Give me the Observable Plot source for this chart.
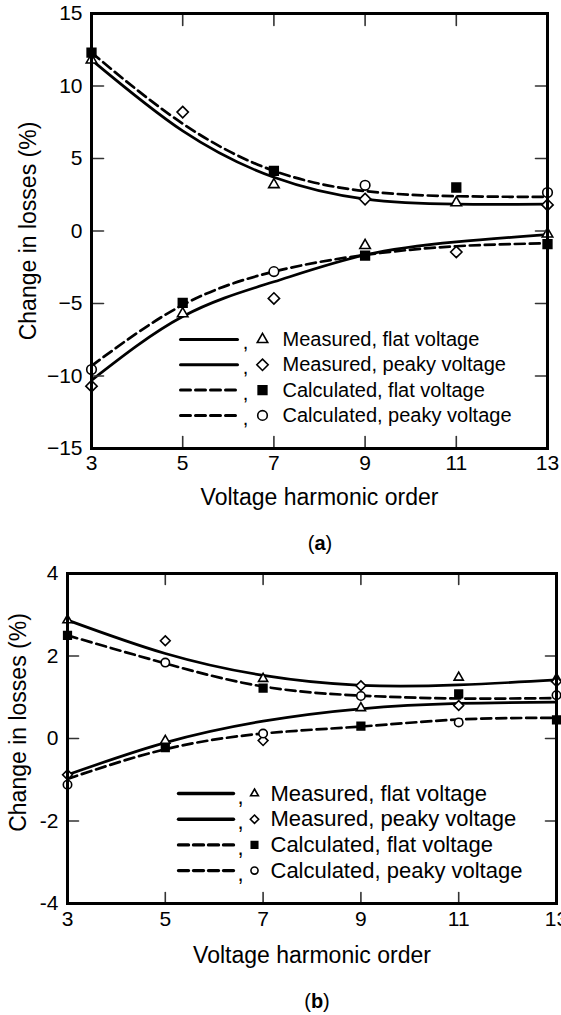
<!DOCTYPE html>
<html><head><meta charset="utf-8">
<script src="https://cdn.jsdelivr.net/npm/d3@7"></script>
<script src="https://cdn.jsdelivr.net/npm/@observablehq/plot@0.6"></script>
<style>
body{margin:0;background:#fff;}
#wrap{position:relative;width:561px;height:1015px;overflow:hidden;background:#fff;font-family:"Liberation Sans",Arial,Helvetica,sans-serif;}
#wrap svg{position:absolute;left:0;}
.cap{position:absolute;font-size:20px;transform:translate(-50%,-50%);color:#000;white-space:nowrap;}
</style></head><body><div id="wrap"></div>
<script>
// ---------- shared ----------
const harmonics = [3, 5, 7, 9, 11, 13];
const xTickValues = [3, 5, 7, 9, 11, 13];
const xInnerTicks = [5, 7, 9, 11];
const xAxisLabel = "Voltage harmonic order";
const yAxisLabel = "Change in losses (%)";
const legendLabels = ["Measured, flat voltage", "Measured, peaky voltage", "Calculated, flat voltage", "Calculated, peaky voltage"];

// ---------- panel (a) ----------
const aYTicks = [-15, -10, -5, 0, 5, 10, 15];
const aYTickLabels = ["\u221215", "\u221210", "\u22125", "0", "5", "10", "15"];
const aYInnerTicks = [-10, -5, 0, 5, 10];
// markers (null = not visible)
const aMeasuredFlat   = [11.8, -5.7, 3.2, -1.0, 1.95, -0.2];
const aMeasuredPeaky  = [-10.7, 8.2, -4.65, 2.2, -1.45, 1.8];
const aCalculatedFlat = [12.3, -4.95, 4.15, -1.7, 3.0, -0.9];
const aCalculatedPeaky= [-9.55, null, -2.8, 3.15, null, 2.65];
// fitted curves
const aMeasuredUpper   = [11.8, 6.9, 3.7, 2.2, 1.85, 1.85];
const aMeasuredLower   = [-10.3, -5.9, -3.5, -1.65, -0.75, -0.25];
const aCalculatedUpper = [12.3, 7.4, 4.15, 2.75, 2.4, 2.35];
const aCalculatedLower = [-9.3, -5.1, -2.8, -1.65, -1.05, -0.85];

// ---------- panel (b) ----------
const bYTicks = [-4, -2, 0, 2, 4];
const bYTickLabels = ["-4", "-2", "0", "2", "4"];
const bYInnerTicks = [-2, 0, 2];
const bMeasuredFlat   = [2.87, -0.05, 1.45, 0.74, 1.48, 1.45];
const bMeasuredPeaky  = [-0.88, 2.37, -0.05, 1.28, 0.8, 1.38];
const bCalculatedFlat = [2.5, -0.22, 1.22, 0.3, 1.08, 0.45];
const bCalculatedPeaky= [-1.12, 1.84, 0.12, 1.03, 0.39, 1.05];
const bMeasuredUpper   = [2.87, 2.06, 1.53, 1.29, 1.3, 1.42];
const bMeasuredLower   = [-0.88, -0.1, 0.42, 0.72, 0.85, 0.88];
const bCalculatedUpper = [2.5, 1.82, 1.26, 1.04, 0.97, 0.98];
const bCalculatedLower = [-0.98, -0.26, 0.12, 0.29, 0.46, 0.5];

// ---------- helpers ----------
const tickShape = {draw(ctx, l) { ctx.moveTo(0, 0); ctx.lineTo(0, -l); }};
const rows = (values) => harmonics.map((x, i) => ({x, y: values[i]})).filter(d => d.y != null);

function panel(cfg) {
  const solid = [...rows(cfg.curves.mu).map(d => ({...d, c: "mu"})), ...rows(cfg.curves.ml).map(d => ({...d, c: "ml"}))];
  const dashed = [...rows(cfg.curves.cu).map(d => ({...d, c: "cu"})), ...rows(cfg.curves.cl).map(d => ({...d, c: "cl"}))];
  const ms = cfg.markerSize;
  const symbols = [
    {sym: "triangle", r: ms.tri, fill: "white", vals: cfg.pts.mf},
    {sym: "diamond2", r: ms.dia, fill: "white", vals: cfg.pts.mp},
    {sym: "square", r: ms.sq, fill: "black", vals: cfg.pts.cf},
    {sym: "circle", r: ms.cir, fill: "white", vals: cfg.pts.cp}
  ];
  const lg = cfg.legend;
  const legendMarks = [];
  legendLabels.forEach((label, i) => {
    const yy = lg.y0 + i * lg.step - cfg.mt;
    legendMarks.push(Plot.vector([0], {frameAnchor: "top-left", dx: lg.lineX - cfg.ml, dy: yy, length: lg.lineLen, rotate: 90, anchor: "start", shape: tickShape, stroke: "black", strokeWidth: lg.lineW, strokeDasharray: i < 2 ? null : "10,5"}));
    legendMarks.push(Plot.text([","], {frameAnchor: "top-left", dx: lg.commaX - cfg.ml, dy: yy + 3, fontSize: lg.font, text: d => d, textAnchor: "middle", lineAnchor: "middle", fill: "black"}));
    const s = symbols[i];
    legendMarks.push(Plot.dot([0], {frameAnchor: "top-left", dx: lg.markX - cfg.ml, dy: yy, symbol: s.sym, r: s.r * lg.markScale, fill: s.fill, stroke: "black", strokeWidth: 1.6}));
    legendMarks.push(Plot.text([label], {frameAnchor: "top-left", dx: lg.textX - cfg.ml, dy: yy, fontSize: lg.font, text: d => d, textAnchor: "start", lineAnchor: "middle", fill: "black"}));
  });
  return Plot.plot({
    width: 561, height: cfg.height,
    marginLeft: cfg.ml, marginRight: cfg.mr, marginTop: cfg.mt, marginBottom: cfg.mb,
    x: {domain: [3, 13]},
    y: {domain: cfg.yDomain},
    style: {fontFamily: "Liberation Sans, Arial, Helvetica, sans-serif", fontSize: "21px", color: "black", background: "white", overflow: "visible"},
    marks: [
      Plot.line(solid, {x: "x", y: "y", z: "c", curve: "natural", stroke: "black", strokeWidth: 2.7}),
      Plot.line(dashed, {x: "x", y: "y", z: "c", curve: "natural", stroke: "black", strokeWidth: 2.7, strokeDasharray: "10,5"}),
      ...symbols.map(s => Plot.dot(rows(s.vals), {x: "x", y: "y", symbol: s.sym, r: s.r, fill: s.fill, stroke: "black", strokeWidth: 1.6})),
      Plot.vector(xInnerTicks, {x: d => d, frameAnchor: "bottom", length: cfg.tickLen, rotate: 0, anchor: "start", shape: tickShape, stroke: "#333", strokeWidth: 1.6}),
      Plot.vector(xInnerTicks, {x: d => d, frameAnchor: "top", length: cfg.tickLen, rotate: 180, anchor: "start", shape: tickShape, stroke: "#333", strokeWidth: 1.6}),
      Plot.vector(cfg.yInner, {y: d => d, frameAnchor: "left", length: cfg.tickLen, rotate: 90, anchor: "start", shape: tickShape, stroke: "#333", strokeWidth: 1.6}),
      Plot.vector(cfg.yInner, {y: d => d, frameAnchor: "right", length: cfg.tickLen, rotate: -90, anchor: "start", shape: tickShape, stroke: "#333", strokeWidth: 1.6}),
      Plot.frame({stroke: "black", strokeWidth: 3}),
      Plot.axisX({ticks: xTickValues, tickSize: 0, tickPadding: cfg.xPad, tickFormat: d => String(d), label: null, fontSize: 21}),
      Plot.axisY({ticks: cfg.yTicks, tickSize: 0, tickPadding: 9, tickFormat: d => cfg.yLabels[cfg.yTicks.indexOf(d)], label: null, fontSize: 21}),
      Plot.text([xAxisLabel], {frameAnchor: "bottom", dy: cfg.xLabelDy, text: d => d, fontSize: 23, textAnchor: "middle", lineAnchor: "middle", fill: "black"}),
      Plot.text([yAxisLabel], {frameAnchor: "left", dx: cfg.yLabelDx, dy: cfg.yLabelDy, rotate: -90, text: d => d, fontSize: 23, textAnchor: "middle", lineAnchor: "middle", fill: "black"}),
      ...legendMarks
    ]
  });
}

const wrap = document.getElementById("wrap");

const svgA = panel({
  height: 520, ml: 91, mr: 14, mt: 13, mb: 72,
  yDomain: [-15, 15], yTicks: aYTicks, yLabels: aYTickLabels, yInner: aYInnerTicks,
  tickLen: 12, xPad: 7, xLabelDy: 49, yLabelDx: -63, yLabelDy: 0,
  markerSize: {tri: 3.9, dia: 5.1, sq: 4.9, cir: 4.8},
  pts: {mf: aMeasuredFlat, mp: aMeasuredPeaky, cf: aCalculatedFlat, cp: aCalculatedPeaky},
  curves: {mu: aMeasuredUpper, ml: aMeasuredLower, cu: aCalculatedUpper, cl: aCalculatedLower},
  legend: {y0: 339, step: 25.3, lineX: 180, lineLen: 57, lineW: 3, commaX: 245, markX: 262, textX: 282, font: 20, markScale: 1}
});
svgA.style.top = "0px";
wrap.appendChild(svgA);

const svgB = panel({
  height: 420, ml: 67, mr: 5, mt: 13, mb: 77,
  yDomain: [-4, 4], yTicks: bYTicks, yLabels: bYTickLabels, yInner: bYInnerTicks,
  tickLen: 11, xPad: 8, xLabelDy: 52, yLabelDx: -49, yLabelDy: -16,
  markerSize: {tri: 3.4, dia: 4.4, sq: 4.3, cir: 4.2},
  pts: {mf: bMeasuredFlat, mp: bMeasuredPeaky, cf: bCalculatedFlat, cp: bCalculatedPeaky},
  curves: {mu: bMeasuredUpper, ml: bMeasuredLower, cu: bCalculatedUpper, cl: bCalculatedLower},
  legend: {y0: 793 - 560, step: 25.7, lineX: 178, lineLen: 55, lineW: 3.4, commaX: 240, markX: 254, textX: 270, font: 22, markScale: 0.85}
});
svgB.style.top = "560px";
wrap.appendChild(svgB);

function caption(letter, cx, cy) {
  const d = document.createElement("div");
  d.className = "cap";
  d.style.left = cx + "px";
  d.style.top = cy + "px";
  d.innerHTML = "(<b>" + letter + "</b>)";
  wrap.appendChild(d);
}
caption("a", 320, 543);
caption("b", 317, 1001);
</script>
</body></html>
